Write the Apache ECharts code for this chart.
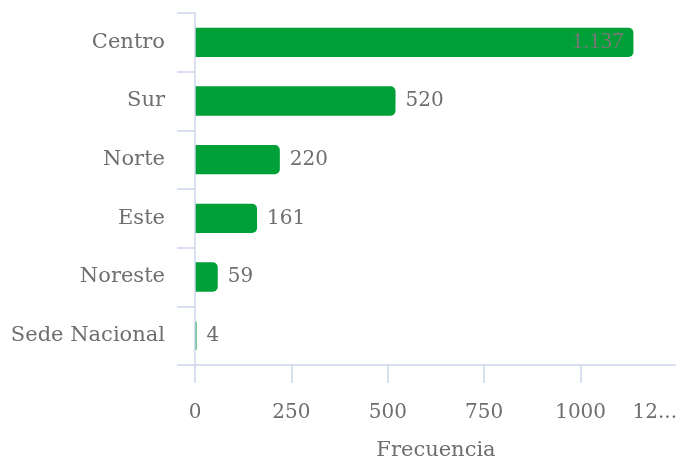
<!DOCTYPE html>
<html>
<head>
<meta charset="utf-8">
<script src="https://cdn.jsdelivr.net/npm/echarts@6/dist/echarts.min.js"></script>
<style>
  html, body { margin: 0; padding: 0; background: #fff; }
  #container { width: 676px; height: 461px; }
</style>
</head>
<body>
<div id="container"></div>
<script>
var categories = ['Centro', 'Sur', 'Norte', 'Este', 'Noreste', 'Sede Nacional'];
var values = [1137, 520, 220, 161, 59, 4];
var xTickLabels = ['0', '250', '500', '750', '1000', '12...'];

var axisColor = '#ccd6eb';
var textColor = '#6e6e6e';

// spanish thousands separator: 1137 -> 1.137
function fmtNum(v) {
    return String(v).replace(/\B(?=(\d{3})+(?!\d))/g, '.');
}

function init() {
    var chart = echarts.init(document.getElementById('container'));

    var barData = [];
    for (var i = 0; i < values.length; i++) {
        var item = { value: values[i] };
        if (i === 0) {
            // longest bar keeps its label inside
            item.label = {
                position: 'insideRight',
                distance: 10,
                fontFamily: 'Liberation Serif',
                fontSize: 23,
                color: '#777'
            };
        }
        barData.push(item);
    }

    var option = {
        backgroundColor: '#fff',
        animation: false,
        textStyle: { fontFamily: 'DejaVu Serif' },
        grid: { left: 195, top: 13, width: 482, height: 352, outerBoundsMode: 'none', containLabel: false },
        xAxis: {
            type: 'value',
            min: 0,
            max: 1250,
            interval: 250,
            name: 'Frecuencia',
            nameLocation: 'middle',
            nameGap: 75,
            nameTextStyle: { fontSize: 21, color: textColor, fontFamily: 'DejaVu Serif' },
            axisLine: { show: true, lineStyle: { color: axisColor, width: 1.5 } },
            axisTick: { show: true, length: 18, lineStyle: { color: axisColor, width: 1.5 } },
            splitLine: { show: false },
            axisLabel: {
                margin: 38,
                fontSize: 20,
                color: textColor,
                fontFamily: 'DejaVu Serif',
                alignMaxLabel: 'right',
                formatter: function (v) { return xTickLabels[Math.round(v / 250)]; }
            }
        },
        yAxis: {
            type: 'category',
            inverse: true,
            z: 3,
            data: categories,
            axisLine: { show: true, lineStyle: { color: axisColor, width: 1.5 } },
            axisTick: { show: true, length: 18, lineStyle: { color: axisColor, width: 1.5 } },
            axisLabel: {
                margin: 30,
                fontSize: 21,
                color: textColor,
                fontFamily: 'DejaVu Serif'
            }
        },
        series: [{
            type: 'bar',
            data: barData,
            barWidth: '50%',
            itemStyle: { color: '#00a038', borderRadius: [0, 5, 5, 0] },
            label: {
                show: true,
                position: 'right',
                distance: 10,
                fontSize: 20,
                color: textColor,
                fontFamily: 'DejaVu Serif',
                formatter: function (p) { return fmtNum(p.value); }
            }
        }]
    };

    chart.setOption(option);
}

init();
</script>
</body>
</html>
